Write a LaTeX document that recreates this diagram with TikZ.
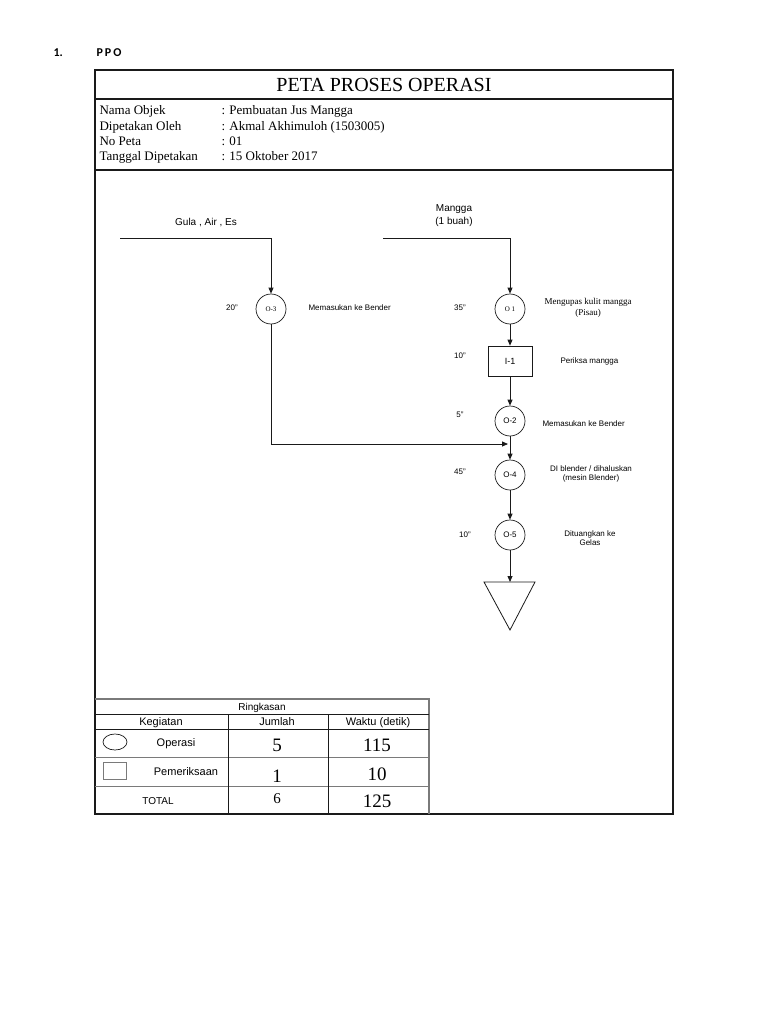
\documentclass[tikz,border=0pt]{standalone}
\usepackage{fontspec}
\setmainfont{Liberation Serif}
\setsansfont{Liberation Sans}
\newfontfamily\calibri{Carlito}
\usepackage{xcolor}
\usetikzlibrary{arrows.meta,positioning}
\definecolor{Ink}{HTML}{1A1A1A}
\definecolor{Grid}{HTML}{7A7A7A}

\tikzset{
  ops/.style={circle,draw=Ink,line width=0.7pt,minimum size=30pt,inner sep=0pt},
  insp/.style={rectangle,draw=Ink,line width=0.7pt,minimum width=44pt,minimum height=30pt,inner sep=0pt},
  flow/.style={draw=Ink,line width=0.8pt,-{Triangle[length=6pt,width=5pt]}},
  lbl/.style={font=\sffamily\fontsize{8}{9.5}\selectfont,align=center},
  slbl/.style={font=\fontsize{9}{10.5}\selectfont,align=center},
  info/.style={font=\fontsize{13}{15}\selectfont,anchor=base west},
  big/.style={font=\fontsize{19}{20}\selectfont,anchor=base},
  hdr/.style={font=\sffamily\fontsize{11}{12}\selectfont,anchor=base}
}

\begin{document}
\begin{tikzpicture}[x=1pt,y=-1pt]
  \useasboundingbox (0,0) rectangle (768,1024);
  \node[font=\calibri\bfseries\fontsize{12}{13}\selectfont,anchor=base west] (nomor) at (50,57) {1.};
  \node[font=\calibri\bfseries\fontsize{12}{13}\selectfont,anchor=base west] (judul) at (93,57) {P\,P\,O};

  % frame
  \draw[Ink,line width=1.8pt] (95,70) rectangle (673,814);
  \draw[Ink,line width=1.5pt] (95,99) -- (673,99);
  \draw[Ink,line width=1.5pt] (95,170) -- (673,170);
  \node[font=\fontsize{20}{22}\selectfont] (title) at (384,85) {PETA PROSES OPERASI};

  % identitas
  \foreach \k/\v/\y in {Nama Objek/Pembuatan Jus Mangga/115,
      Dipetakan Oleh/Akmal Akhimuloh (1503005)/131,
      No Peta/01/146,
      Tanggal Dipetakan/15 Oktober 2017/161} {
    \node[info] at (96,\y) {\k};
    \node[info] at (218,\y) {: \v};
  }

  % operasi
  \node[ops,font=\fontsize{7}{8}\selectfont] (o3) at (271,309) {O-3};
  \node[ops,font=\fontsize{7}{8}\selectfont] (o1) at (510,309) {O 1};
  \node[insp,font=\sffamily\fontsize{9}{10}\selectfont] (i1) at (510,361) {I-1};
  \node[ops,font=\sffamily\fontsize{8}{9}\selectfont] (o2) at (510,421) {O-2};
  \node[ops,font=\sffamily\fontsize{8}{9}\selectfont] (o4) at (510,475) {O-4};
  \node[ops,font=\sffamily\fontsize{8}{9}\selectfont] (o5) at (510,535) {O-5};
  \draw[Ink,line width=0.8pt] (484,582) -- (535,582) -- (510,630) -- cycle;
  \coordinate (simpan) at (510,582);

  % bahan
  \coordinate (gula) at (120,238);
  \coordinate (mangga) at (383,238);
  \coordinate (masuk) at (508,444);
  \node[lbl,font=\sffamily\fontsize{10}{12}\selectfont] (lGula) at (206,223) {Gula , Air , Es};
  \node[lbl,font=\sffamily\fontsize{10}{13}\selectfont] (lMangga) at (454,216) {Mangga\\(1 buah)};

  \draw[flow] (gula) -| (o3);
  \draw[flow] (mangga) -| (o1);
  \draw[flow] (o1) -- (i1);
  \draw[flow] (i1) -- (o2);
  \draw[flow] (o2) -- (o4);
  \draw[flow] (o3) |- (masuk);
  \draw[flow] (o4) -- (o5);
  \draw[flow] (o5) -- (simpan);

  % waktu
  \node[lbl] (t3) at (232,308) {20"};
  \node[lbl] (t1) at (460,308) {35"};
  \node[lbl] (ti) at (460,356) {10"};
  \node[lbl] (t2) at (460,415) {5"};
  \node[lbl] (t4) at (460,472) {45"};
  \node[lbl] (t5) at (465,535) {10"};

  % keterangan
  \node[lbl,anchor=west] (k3) at (305,308) {Memasukan ke Bender};
  \node[slbl] (k1) at (588,308) {Mengupas kulit mangga\\(Pisau)};
  \node[lbl,anchor=west] (ki) at (557,361) {Periksa mangga};
  \node[lbl,anchor=west] (k2) at (539,424) {Memasukan ke Bender};
  \node[lbl] (k4) at (591,474) {DI blender / dihaluskan\\(mesin Blender)};
  \node[lbl] (k5) at (590,538) {Dituangkan ke\\Gelas};

  % ringkasan
  \draw[Grid,line width=1.2pt] (95,699) -- (429,699) -- (429,814);
  \draw[Ink,line width=0.7pt] (95,714) -- (429,714);
  \draw[Ink,line width=0.9pt] (95,729) -- (429,729);
  \draw[Grid,line width=0.8pt] (95,757) -- (429,757);
  \draw[Grid,line width=0.8pt] (95,786) -- (429,786);
  \draw[Ink,line width=0.6pt] (228,714) -- (228,814);
  \draw[Ink,line width=0.6pt] (328,714) -- (328,814);
  \node[hdr,font=\sffamily\fontsize{10}{11}\selectfont] (rk) at (262,710) {Ringkasan};
  \node[hdr] (hK) at (161,725) {Kegiatan};
  \node[hdr] (hJ) at (277,725) {Jumlah};
  \node[hdr] (hW) at (378,725) {Waktu (detik)};
  \draw[Ink,line width=0.7pt] (115,742) ellipse (12 and 8);
  \draw[Grid,line width=0.9pt] (103,762) rectangle (126,779);
  \node[hdr] (nOp) at (176,746) {Operasi};
  \node[hdr] (nPm) at (186,775) {Pemeriksaan};
  \node[hdr,font=\sffamily\fontsize{10}{11}\selectfont] (nTt) at (158,804) {TOTAL};
  \node[big] (jOp) at (277,751) {5};
  \node[big] (wOp) at (377,751) {115};
  \node[big] (jPm) at (277,782) {1};
  \node[big] (wPm) at (377,780) {10};
  \node[big,font=\fontsize{15}{16}\selectfont] (jTt) at (277,803) {6};
  \node[big] (wTt) at (377,807) {125};
\end{tikzpicture}
\end{document}
